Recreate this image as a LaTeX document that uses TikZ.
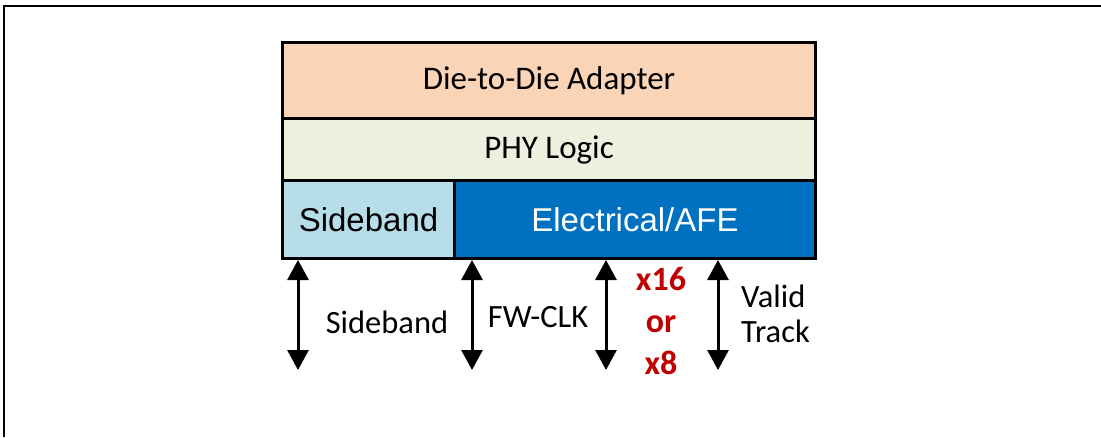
\documentclass[tikz,border=0pt]{standalone}
\usepackage{fontspec}
\setmainfont{Carlito}
\newfontfamily\arialf{Liberation Sans}
\usetikzlibrary{arrows.meta}
\definecolor{peach}{HTML}{F9D4B6}
\definecolor{phygreen}{HTML}{EBF1DE}
\definecolor{sbblue}{HTML}{B7DDE8}
\definecolor{afeblue}{HTML}{0070C0}
\definecolor{darkred}{HTML}{C00000}
\tikzset{
  layer/.style={draw=black, line width=3pt, anchor=north west, inner sep=0pt},
  toplabel/.style={font=\fontsize{33}{38}\selectfont},
  arlabel/.style={font=\arialf\fontsize{33}{38}\selectfont},
  botlabel/.style={font=\fontsize{32.5}{35}\selectfont, inner sep=0pt},
  redlabel/.style={font=\bfseries\fontsize{34}{42}\selectfont, text=darkred, align=center, inner sep=0pt},
  bus/.style={line width=3pt, {Triangle[length=20pt,width=21pt]}-{Triangle[length=20pt,width=21pt]}},
}
\begin{document}
\begin{tikzpicture}[x=1pt,y=-1pt]
\useasboundingbox (0,0) rectangle (1101,437);
\draw[line width=2pt] (4,437) -- (4,6) -- (1101,6);
\node[layer, fill=peach, minimum width=533pt, minimum height=76pt] (d2d) at (281,41) {};
\node[toplabel] at (d2d.center) {Die-to-Die Adapter};
\node[layer, fill=phygreen, minimum width=533pt, minimum height=62pt] (phy) at (281,117) {};
\node[toplabel] at (phy.center) {PHY Logic};
\node[layer, fill=sbblue, minimum width=172pt, minimum height=78pt] (sb) at (281,179) {};
\node[arlabel] at (sb.center) {Sideband};
\node[layer, fill=afeblue, minimum width=361pt, minimum height=78pt] (afe) at (453,179) {};
\node[arlabel, text=white] at (afe.center) {Electrical/AFE};
\coordinate (a1t) at (298,260); \coordinate (a1b) at (298,370);
\coordinate (a2t) at (472,260); \coordinate (a2b) at (472,370);
\coordinate (a3t) at (606,260); \coordinate (a3b) at (606,370);
\coordinate (a4t) at (718,260); \coordinate (a4b) at (718,370);
\draw[bus] (a1t) -- (a1b);
\draw[bus] (a2t) -- (a2b);
\draw[bus] (a3t) -- (a3b);
\draw[bus] (a4t) -- (a4b);
\node[botlabel] (l1) at (387,322) {Sideband};
\node[botlabel] (l2) at (538,317) {FW-CLK};
\node[redlabel] (l3) at (661,321) {x16\\or\\x8};
\node[botlabel, align=left, anchor=west] (l4) at (741,314) {Valid\\Track};
\end{tikzpicture}
\end{document}
